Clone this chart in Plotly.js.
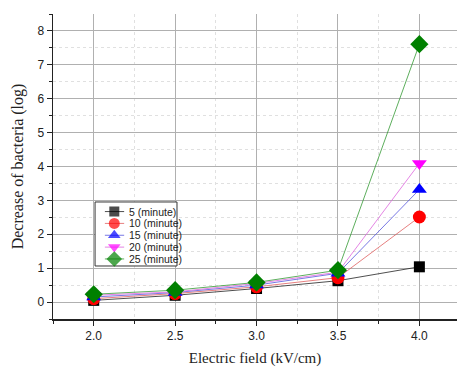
<!DOCTYPE html>
<html><head><meta charset="utf-8">
<script src="https://cdn.plot.ly/plotly-3.0.1.min.js"></script>
<style>html,body{margin:0;padding:0;background:#fff}</style>
</head><body>
<div id="chart" style="width:457px;height:367px"></div>
<script>
const field = [2.0, 2.5, 3.0, 3.5, 4.0];
const seriesNames = ["5 (minute)", "10 (minute)", "15 (minute)", "20 (minute)", "25 (minute)"];
const min5  = [0.05, 0.20, 0.40, 0.63, 1.04];
const min10 = [0.10, 0.25, 0.45, 0.72, 2.51];
const min15 = [0.15, 0.28, 0.50, 0.85, 3.32];
const min20 = [0.20, 0.30, 0.55, 0.88, 4.09];
const min25 = [0.23, 0.35, 0.58, 0.94, 7.61];
const xTicks = [2.0, 2.5, 3.0, 3.5, 4.0];
const xTickText = ["2.0", "2.5", "3.0", "3.5", "4.0"];
const yTicks = [0, 1, 2, 3, 4, 5, 6, 7, 8];

const values = [min5, min10, min15, min20, min25];
const markerColors = ["#000000", "#ff0000", "#0000ff", "#ff00ff", "#008000"];
const lineColors = ["#222222", "#e06060", "#5555dd", "#dd66dd", "#339933"];
const symbols = ["square", "circle", "triangle-up", "triangle-down", "diamond"];
const sizes = [11, 13, 13, 13, 14];
const legSizes = [10, 11, 11, 11, 12];

const traces = values.map((v, i) => ({
  x: field, y: v, name: seriesNames[i], type: "scatter", mode: "lines+markers",
  showlegend: false,
  line: {color: lineColors[i], width: 0.8},
  marker: {color: markerColors[i], symbol: symbols[i], size: sizes[i], line: {width: 0}}
}));

// custom compact legend drawn in a small overlay subplot (x2/y2, range 0..1)
const legendBox = {
  x: [0, 1, 1, 0, 0], y: [0, 0, 1, 1, 0], xaxis: "x2", yaxis: "y2",
  type: "scatter", mode: "lines", fill: "toself", fillcolor: "#ffffff",
  line: {color: "#333333", width: 1}, showlegend: false, hoverinfo: "skip", cliponaxis: false
};
const legY = [0.85, 0.665, 0.48, 0.295, 0.11];
const legendTraces = seriesNames.map((n, i) => ({
  x: [0.12, 0.235, 0.355], y: [legY[i], legY[i], legY[i]],
  xaxis: "x2", yaxis: "y2", type: "scatter", mode: "lines+markers",
  showlegend: false, hoverinfo: "skip",
  line: {color: lineColors[i], width: 0.8},
  marker: {color: markerColors[i], symbol: symbols[i], size: [0, legSizes[i], 0], line: {width: 0}}
}));
const legendAnn = seriesNames.map((n, i) => ({
  xref: "x2", yref: "y2", x: 0.395, y: legY[i], text: n, showarrow: false,
  xanchor: "left", yanchor: "middle",
  font: {family: "Arial, Liberation Sans, sans-serif", size: 10.5, color: "#222"}
}));

const layout = {
  width: 457, height: 367,
  margin: {l: 53, r: 0, t: 14, b: 48},
  paper_bgcolor: "#ffffff", plot_bgcolor: "rgba(0,0,0,0)",
  showlegend: false,
  xaxis: {
    range: [1.75, 4.231], tickvals: xTicks, ticktext: xTickText,
    showline: true, linecolor: "#222", linewidth: 1.5, zeroline: false,
    ticks: "outside", ticklen: 5, tickcolor: "#222", tickwidth: 1,
    showgrid: true, gridcolor: "#b0b0b0", gridwidth: 1,
    minor: {dtick: 0.25, showgrid: true, gridcolor: "#e0e0e0", griddash: "dot", ticks: "outside", ticklen: 3, tickcolor: "#222"},
    tickfont: {family: "Arial, Liberation Sans, sans-serif", size: 12, color: "#222"},
    title: {text: "Electric field (kV/cm)", font: {family: "Times New Roman, Liberation Serif, serif", size: 15, color: "#222"}, standoff: 12}
  },
  yaxis: {
    range: [-0.5, 8.5], tickvals: yTicks,
    showline: true, linecolor: "#222", linewidth: 1.5, zeroline: false,
    ticks: "outside", ticklen: 5, tickcolor: "#222", tickwidth: 1,
    showgrid: true, gridcolor: "#b0b0b0", gridwidth: 1,
    minor: {dtick: 0.5, showgrid: true, gridcolor: "#e0e0e0", griddash: "dot", ticks: "outside", ticklen: 3, tickcolor: "#222"},
    tickfont: {family: "Arial, Liberation Sans, sans-serif", size: 12, color: "#222"},
    title: {text: "Decrease of bacteria (log)", font: {family: "Times New Roman, Liberation Serif, serif", size: 16, color: "#222"}, standoff: 10}
  },
  xaxis2: {domain: [0.098, 0.313], range: [-0.03, 1.03], anchor: "y2", visible: false, fixedrange: true},
  yaxis2: {domain: [0.1675, 0.39], range: [-0.03, 1.03], anchor: "x2", visible: false, fixedrange: true},
  annotations: legendAnn
};
Plotly.newPlot("chart", traces.concat([legendBox], legendTraces), layout, {displayModeBar: false, staticPlot: true});
</script>
</body></html>
